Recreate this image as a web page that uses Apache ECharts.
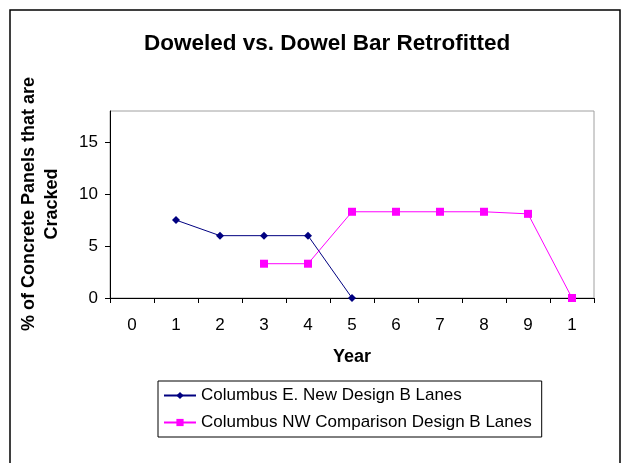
<!DOCTYPE html>
<html>
<head>
<meta charset="utf-8">
<script src="https://cdn.jsdelivr.net/npm/echarts@6/dist/echarts.min.js"></script>
<style>
  html, body { margin: 0; padding: 0; background: #fff; }
  #chart { width: 623px; height: 463px; }
</style>
</head>
<body>
<div id="chart"></div>
<script>
// years as printed on the axis (the last one is "10" cut down to "1")
const years = ['0', '1', '2', '3', '4', '5', '6', '7', '8', '9', '1']
const eastNew = [null, 7.5, 6, 6, 6, 0, null, null, null, null, null]
const nwComparison = [null, null, null, 3.3, 3.3, 8.3, 8.3, 8.3, 8.3, 8.1, 0]
const yTicks = [0, 5, 10, 15]

const font = 'Liberation Sans, Arial, sans-serif'
const chart = echarts.init(document.getElementById('chart'))

const option = {
    animation: false,
    backgroundColor: '#fff',
    title: {
        text: 'Doweled vs. Dowel Bar Retrofitted',
        left: 139,
        top: 27,
        textStyle: { fontFamily: font, fontSize: 22.5, fontWeight: 'bold', color: '#000' }
    },
    graphic: [
        {
            type: 'rect',
            shape: { x: 10, y: 10, width: 610, height: 470 },
            style: { fill: 'none', stroke: '#000', lineWidth: 1.5 },
            silent: true
        },
        {
            type: 'text',
            x: 41, y: 204,
            rotation: Math.PI / 2,
            style: {
                text: '% of Concrete Panels that are\nCracked',
                fontFamily: font, fontSize: 18, fontWeight: 'bold',
                fill: '#000', align: 'center', verticalAlign: 'middle', lineHeight: 23
            }
        }
    ],
    grid: {
        left: 110, right: 29, top: 111, bottom: 165,
        show: true, borderColor: '#a0a0a0', borderWidth: 1,
        containLabel: false
    },
    legend: {
        orient: 'vertical',
        left: 158, top: 381,
        width: 388,
        padding: [6, 10, 6, 5],
        itemWidth: 32, itemHeight: 9, itemGap: 10,
        borderColor: '#000', borderWidth: 1,
        textStyle: { fontFamily: font, fontSize: 17, color: '#000' },
        data: ['Columbus E. New Design B Lanes', 'Columbus NW Comparison Design B Lanes']
    },
    xAxis: {
        type: 'category',
        data: years,
        boundaryGap: true,
        name: 'Year',
        nameLocation: 'middle',
        nameGap: 50,
        nameTextStyle: { fontFamily: font, fontSize: 18, fontWeight: 'bold', color: '#000' },
        axisLine: { lineStyle: { color: '#000' } },
        axisTick: { show: true, length: 5, inside: false, alignWithLabel: false, lineStyle: { color: '#000' } },
        axisLabel: { fontFamily: font, fontSize: 17, color: '#000', margin: 19, interval: 0 },
        splitLine: { show: false }
    },
    yAxis: {
        type: 'value',
        min: 0, max: 18, interval: 5,
        axisLine: { show: true, lineStyle: { color: '#000' } },
        axisTick: { show: true, length: 5, lineStyle: { color: '#000' } },
        axisLabel: {
            fontFamily: font, fontSize: 17, color: '#000', margin: 12,
            showMaxLabel: false,
            formatter: v => (yTicks.includes(v) ? String(v) : '')
        },
        splitLine: { show: false }
    },
    series: [
        {
            name: 'Columbus E. New Design B Lanes',
            type: 'line',
            data: eastNew,
            connectNulls: false,
            symbol: 'diamond',
            symbolSize: 8,
            color: '#000080',
            lineStyle: { color: '#000080', width: 1 },
            itemStyle: { color: '#000080' }
        },
        {
            name: 'Columbus NW Comparison Design B Lanes',
            type: 'line',
            data: nwComparison,
            connectNulls: false,
            symbol: 'rect',
            symbolSize: 8,
            color: '#ff00ff',
            lineStyle: { color: '#ff00ff', width: 1 },
            itemStyle: { color: '#ff00ff' }
        }
    ]
}

chart.setOption(option)
</script>
</body>
</html>
